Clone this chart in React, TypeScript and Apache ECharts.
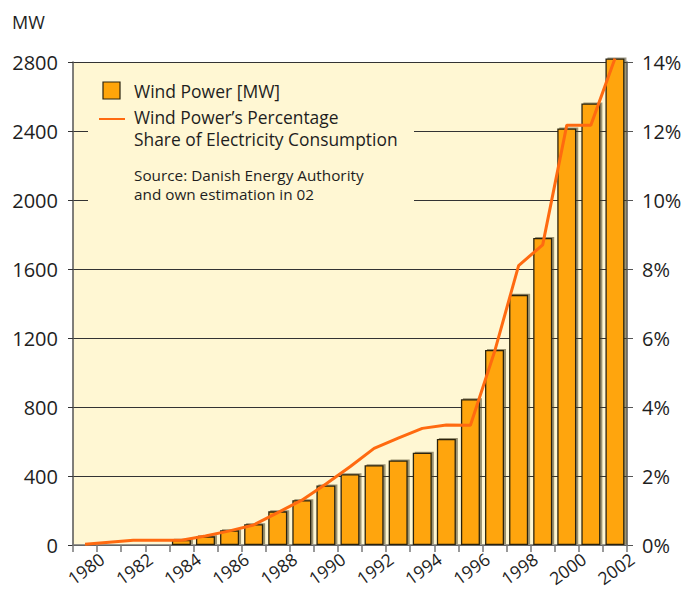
import React, { useEffect, useRef } from "react";
import * as echarts from "echarts";

const years = ["1980","1981","1982","1983","1984","1985","1986","1987","1988","1989","1990","1991","1992","1993","1994","1995","1996","1997","1998","1999","2000","2001","2002"];
const windMW = [0, 0, 0, 0, 30, 50, 85, 120, 195, 260, 345, 410, 462, 490, 535, 615, 845, 1130, 1450, 1780, 2415, 2560, 2820];
const sharePct = [0.02, 0.08, 0.14, 0.14, 0.14, 0.26, 0.41, 0.58, 0.94, 1.3, 1.77, 2.27, 2.8, 3.1, 3.38, 3.48, 3.47, 5.6, 8.1, 8.7, 12.17, 12.17, 14.1];
const leftTicks = { min: 0, max: 2800, interval: 400 };
const rightTicks = { min: 0, max: 14, interval: 2 };
const legendBar = "Wind Power [MW]";
const legendLine1 = "Wind Power\u2019s Percentage";
const legendLine2 = "Share of Electricity Consumption";
const source1 = "Source: Danish Energy Authority";
const source2 = "and own estimation in 02";
const unitLabel = "MW";

const FONT = '"Open Sans", sans-serif';
const BAR = "#FFA50A";
const LINE = "#FF6A10";
const BG = "#FFF7D3";
const TXT = "#1e1e1e";

export default function App() {
  const ref = useRef<HTMLDivElement>(null);
  useEffect(() => {
    if (!ref.current) return;
    const chart = echarts.init(ref.current, undefined, { renderer: "svg" });
    chart.setOption({
      animation: false,
      textStyle: { fontFamily: FONT },
      grid: { left: 73, right: 56, top: 62, bottom: 45, show: true, backgroundColor: BG, borderWidth: 0, containLabel: false, outerBoundsMode: "none" },
      xAxis: {
        type: "category",
        data: years,
        boundaryGap: true,
        axisLine: { show: true, lineStyle: { color: "#777", width: 1.5 } },
        axisTick: { show: true, interval: 0, length: 7, lineStyle: { color: "#777", width: 1.5 } },
        axisLabel: { interval: 1, rotate: 36, fontSize: 17.5, color: TXT, margin: 24, padding: [0, -21, 0, 0], fontFamily: FONT, hideOverlap: false },
      },
      yAxis: [
        {
          type: "value",
          min: leftTicks.min, max: leftTicks.max, interval: leftTicks.interval,
          axisLine: { show: true, lineStyle: { color: "#555", width: 1.5 } },
          axisTick: { show: true, length: 5, lineStyle: { color: "#333" } },
          axisLabel: { fontSize: 20, color: TXT, margin: 15, fontFamily: FONT, formatter: (v: number) => String(v) },
          splitLine: { show: true, lineStyle: { color: "#333", width: 1.2 } },
        },
        {
          type: "value",
          min: rightTicks.min, max: rightTicks.max, interval: rightTicks.interval,
          position: "right",
          axisLine: { show: true, lineStyle: { color: "#555", width: 1.5 } },
          axisTick: { show: true, length: 6, lineStyle: { color: "#555" } },
          axisLabel: { fontSize: 20, color: TXT, margin: 15, fontFamily: FONT, formatter: "{value}%" },
          splitLine: { show: false },
        },
      ],
      graphic: [
        { type: "rect", z: 1, shape: { x: 88, y: 68, width: 326, height: 148 }, style: { fill: BG } },
        { type: "text", z: 10, style: { text: unitLabel, x: 12, y: 22, font: `18px ${FONT}`, fill: TXT, verticalAlign: "middle" } },
        { type: "rect", z: 10, shape: { x: 103, y: 82, width: 17, height: 17 }, style: { fill: BAR, stroke: "#2b2410", lineWidth: 1.2 } },
        { type: "line", z: 10, shape: { x1: 99, y1: 119, x2: 125, y2: 119 }, style: { stroke: LINE, lineWidth: 2 } },
        { type: "text", z: 10, style: { text: legendBar, x: 134, y: 91, font: `17.5px ${FONT}`, fill: TXT, verticalAlign: "middle" } },
        { type: "text", z: 10, style: { text: legendLine1, x: 134, y: 117, font: `17.4px ${FONT}`, fill: TXT, verticalAlign: "middle" } },
        { type: "text", z: 10, style: { text: legendLine2, x: 134, y: 139, font: `17.4px ${FONT}`, fill: TXT, verticalAlign: "middle" } },
        { type: "text", z: 10, style: { text: source1, x: 134, y: 175, font: `15.3px ${FONT}`, fill: TXT, verticalAlign: "middle" } },
        { type: "text", z: 10, style: { text: source2, x: 134, y: 194, font: `15.3px ${FONT}`, fill: TXT, verticalAlign: "middle" } },
      ],
      series: [
        {
          name: legendBar,
          type: "bar",
          yAxisIndex: 0,
          data: windMW,
          barWidth: 19,
          clip: false,
          z: 2,
          itemStyle: {
            color: BAR,
            borderColor: "#2b2410",
            borderWidth: 1.3,
            shadowColor: "rgba(70,60,30,0.55)",
            shadowOffsetX: 2,
            shadowOffsetY: -1,
            shadowBlur: 1,
          },
        },
        {
          name: legendLine1,
          type: "line",
          yAxisIndex: 1,
          data: sharePct,
          symbol: "none",
          clip: false,
          z: 3,
          lineStyle: { color: LINE, width: 3 },
        },
      ],
    });
    return () => chart.dispose();
  }, []);
  return <div ref={ref} style={{ width: 683, height: 590, position: "absolute", left: 0, top: 0 }} />;
}
